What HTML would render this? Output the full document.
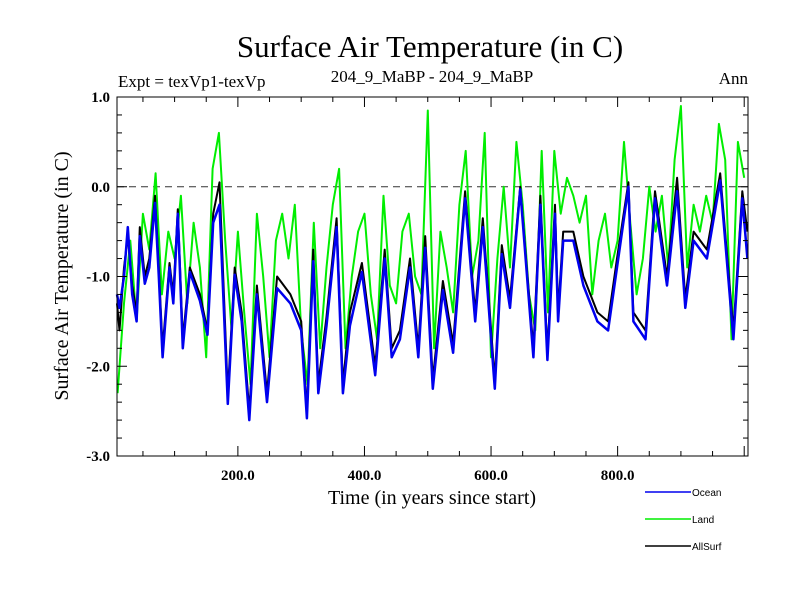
<!DOCTYPE html>
<html><head><meta charset="utf-8"><style>
body{margin:0;background:#fff;}
svg text{font-family:"Liberation Serif",serif;}
</style></head><body>
<svg id="c" width="800" height="600" xmlns="http://www.w3.org/2000/svg">
<text x="430" y="57" font-size="31" text-anchor="middle">Surface Air Temperature (in C)</text>
<text x="118" y="87" font-size="17">Expt = texVp1-texVp</text>
<text x="432" y="82" font-size="17" text-anchor="middle">204_9_MaBP - 204_9_MaBP</text>
<text x="748" y="84" font-size="17" text-anchor="end">Ann</text>
<text x="432" y="504" font-size="20" text-anchor="middle">Time (in years since start)</text>
<text x="0" y="0" font-size="20" text-anchor="middle" transform="translate(68,276) rotate(-90)">Surface Air Temperature (in C)</text>
<g id="plot"></g>
<g id="legend"></g>
</svg>
<script>
const years=[9,13,20,26,33,40,45,53,60,69,75,81,92,98,105,113,124,140,152,161,171,184,195,206,218,230,246,262,283,300,309,319,327,340,356,366,377,396,417,432,443,456,472,485,496,508,524,540,559,575,587,606,617,630,646,667,678,689,701,706,714,730,746,768,785,799,817,825,844,859,878,894,907,920,941,962,983,997,1005];
const ocean=[-1.2,-1.35,-1.0,-0.45,-1.2,-1.5,-0.55,-1.08,-0.9,-0.18,-1.0,-1.9,-0.9,-1.3,-0.3,-1.8,-0.95,-1.27,-1.65,-0.4,-0.2,-2.42,-0.98,-1.5,-2.6,-1.2,-2.4,-1.13,-1.3,-1.6,-2.58,-0.83,-2.3,-1.55,-0.45,-2.3,-1.55,-0.95,-2.1,-0.8,-1.9,-1.7,-0.9,-1.9,-0.68,-2.25,-1.15,-1.85,-0.13,-1.5,-0.45,-2.25,-0.75,-1.35,-0.03,-1.9,-0.2,-1.93,-0.3,-1.5,-0.6,-0.6,-1.1,-1.5,-1.6,-0.9,0.0,-1.5,-1.7,-0.13,-1.1,-0.05,-1.35,-0.6,-0.8,0.07,-1.7,-0.13,-0.8];
const allsurf=[-1.3,-1.6,-0.9,-0.55,-1.1,-1.4,-0.45,-1.0,-0.8,-0.1,-0.9,-1.8,-0.85,-1.2,-0.25,-1.7,-0.9,-1.2,-1.6,-0.3,0.05,-2.3,-0.9,-1.4,-2.5,-1.1,-2.3,-1.0,-1.2,-1.5,-2.5,-0.7,-2.2,-1.45,-0.35,-2.2,-1.4,-0.85,-2.0,-0.7,-1.8,-1.6,-0.8,-1.8,-0.55,-2.15,-1.05,-1.75,-0.05,-1.4,-0.35,-2.15,-0.65,-1.25,0.0,-1.8,-0.1,-1.85,-0.2,-1.4,-0.5,-0.5,-1.0,-1.4,-1.5,-0.8,0.05,-1.4,-1.6,-0.05,-1.0,0.1,-1.25,-0.5,-0.7,0.15,-1.6,-0.05,-0.5];
const landYears=[10,20,30,40,50,60,70,80,90,100,110,120,130,140,150,160,170,180,190,200,210,220,230,240,250,260,270,280,290,300,310,320,330,340,350,360,370,380,390,400,410,420,430,440,450,460,470,480,490,500,510,520,530,540,550,560,570,580,590,600,610,620,630,640,650,660,670,680,690,700,710,720,730,740,750,760,770,780,790,800,810,820,830,840,850,860,870,880,890,900,910,920,930,940,950,960,970,980,990,1000];
const land=[-2.3,-1.3,-0.6,-1.5,-0.3,-0.7,0.15,-1.2,-0.5,-0.8,-0.1,-1.3,-0.4,-0.9,-1.9,0.2,0.6,-0.6,-1.6,-0.5,-1.4,-2.2,-0.3,-1.0,-1.9,-0.6,-0.3,-0.8,-0.2,-1.6,-2.2,-0.4,-1.8,-0.9,-0.2,0.2,-1.8,-1.0,-0.5,-0.3,-1.2,-1.7,-0.1,-1.1,-1.3,-0.5,-0.3,-1.0,-1.2,0.85,-1.8,-0.5,-0.9,-1.4,-0.2,0.4,-1.0,-0.6,0.6,-1.9,-0.8,0.0,-0.9,0.5,-0.2,-1.2,-1.6,0.4,-1.4,0.4,-0.3,0.1,-0.1,-0.4,-0.1,-1.2,-0.6,-0.3,-0.9,-0.6,0.5,-0.4,-1.2,-0.8,0.0,-0.5,-0.1,-0.9,0.3,0.9,-0.9,-0.2,-0.5,-0.1,-0.4,0.7,0.3,-1.7,0.5,0.1];
const xTicks=[200,400,600,800];
const xTickLabels=["200.0","400.0","600.0","800.0"];
const yTicks=[1,0,-1,-2,-3];
const yTickLabels=["1.0","0.0","-1.0","-2.0","-3.0"];

const L=117,R=748,T=97,B=456,X0=9,X1=1006,Y0=-3,Y1=1;
const sx=v=>L+(v-X0)/(X1-X0)*(R-L);
const sy=v=>B-(v-Y0)/(Y1-Y0)*(B-T);
const NS="http://www.w3.org/2000/svg";
const plot=document.getElementById('plot');
function mk(tag,attrs,parent){const e=document.createElementNS(NS,tag);for(const k in attrs)e.setAttribute(k,attrs[k]);(parent||plot).appendChild(e);return e;}

const zl=mk('line',{x1:L,x2:R,y1:sy(0),y2:sy(0),stroke:'#333','stroke-width':1,'stroke-dasharray':'7,5'});



function series(xs,vals,color,w,name){
  const d=xs.map((y,i)=>(i?'L':'M')+sx(y).toFixed(1)+','+sy(vals[i]).toFixed(1)).join('');
  const p=mk('path',{d:d,fill:'none',stroke:color,'stroke-width':w,'stroke-linejoin':'round'});
  
  
}
series(landYears,land,'#00ee00',2,'land-line');
series(years,allsurf,'#000000',2,'allsurf-line');
series(years,ocean,'#0000ee',2.5,'ocean-line');

const fr=mk('rect',{x:L,y:T,width:R-L,height:B-T,fill:'none',stroke:'#000','stroke-width':1});



for(let v=50;v<X1;v+=50){
  const big=v%200===0,len=big?10:5;
  mk('line',{x1:sx(v),x2:sx(v),y1:B,y2:B-len,stroke:'#000'});
  mk('line',{x1:sx(v),x2:sx(v),y1:T,y2:T+len,stroke:'#000'});
}
for(let k=-15;k<=5;k++){
  const v=k/5,big=k%5===0,len=big?10:5;
  mk('line',{x1:L,x2:L+len,y1:sy(v),y2:sy(v),stroke:'#000'});
  mk('line',{x1:R,x2:R-len,y1:sy(v),y2:sy(v),stroke:'#000'});
}
xTicks.forEach((v,i)=>{
  const t=mk('text',{x:sx(v),y:B+24,'font-size':15,'text-anchor':'middle','font-weight':'bold'});
  t.textContent=xTickLabels[i];
  
  
});
yTicks.forEach((v,i)=>{
  const t=mk('text',{x:L-7,y:sy(v)+5,'font-size':15,'text-anchor':'end','font-weight':'bold'});
  t.textContent=yTickLabels[i];
  
  
});
const lg=document.getElementById('legend');
[['Ocean','#0000ee',492],['Land','#00ee00',519],['AllSurf','#000000',546]].forEach(a=>{
  const g=mk('g',{},lg);
  
  
  mk('line',{x1:645,x2:691,y1:a[2],y2:a[2],stroke:a[1],'stroke-width':1.5},g);
  const t=mk('text',{x:692,y:a[2]+4,'font-size':10,style:'font-family:"Liberation Sans",sans-serif'},g);
  t.textContent=a[0];
});
</script>
</body></html>
